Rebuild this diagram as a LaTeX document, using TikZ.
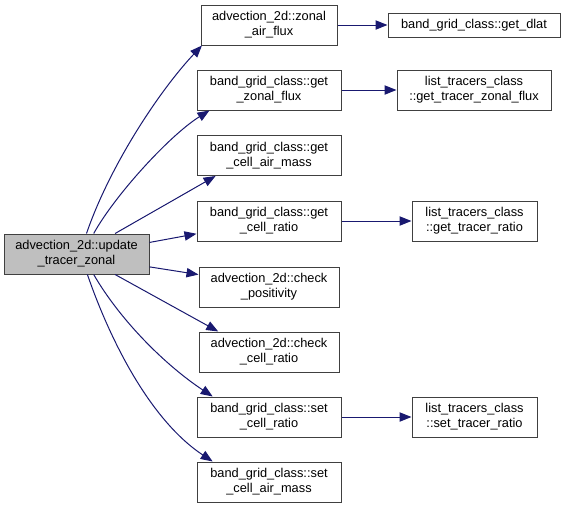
\documentclass[tikz,border=0pt]{standalone}
\usepackage{fontspec}
\setmainfont{Liberation Sans}
\usetikzlibrary{arrows.meta}

\tikzset{every picture/.style={line width=0.75pt}}
\tikzset{
  fnbox/.style={draw=black!75, fill=white, align=center, inner sep=0pt, minimum height=30pt, font=\fontsize{9.6pt}{11.25pt}\selectfont},
  rootbox/.style={fnbox, fill=black!25},
  call/.style={draw={rgb,255:red,25;green,25;blue,112}, -{Triangle[length=9pt,width=7pt]}}
}

\begin{document}
\begin{tikzpicture}[x=0.75pt,y=0.75pt,yscale=-1,xscale=1]
        \useasboundingbox (0,0) rectangle (565,508);

        % Root Node
        \node [rootbox, minimum width=108.75pt] (upd) at (76.5,254) {advection\_2d::update\\\_tracer\_zonal};

        % Callee Nodes
        \node [fnbox, minimum width=102pt] (zaf) at (269,25) {advection\_2d::zonal\\\_air\_flux};
        \node [fnbox, minimum width=108pt] (gzf) at (269,90) {band\_grid\_class::get\\\_zonal\_flux};
        \node [fnbox, minimum width=108pt] (gcam) at (269,155.5) {band\_grid\_class::get\\\_cell\_air\_mass};
        \node [fnbox, minimum width=108pt] (gcr) at (269,221) {band\_grid\_class::get\\\_cell\_ratio};
        \node [fnbox, minimum width=105pt] (chp) at (269,287) {advection\_2d::check\\\_positivity};
        \node [fnbox, minimum width=105pt] (chcr) at (269,352) {advection\_2d::check\\\_cell\_ratio};
        \node [fnbox, minimum width=108pt] (scr) at (269,417) {band\_grid\_class::set\\\_cell\_ratio};
        \node [fnbox, minimum width=108pt] (scam) at (269,482) {band\_grid\_class::set\\\_cell\_air\_mass};

        % Second level Nodes
        \node [fnbox, minimum width=129pt, minimum height=18pt] (dlat) at (474,25) {band\_grid\_class::get\_dlat};
        \node [fnbox, minimum width=115.5pt] (tzf) at (474,90) {list\_tracers\_class\\::get\_tracer\_zonal\_flux};
        \node [fnbox, minimum width=93.75pt] (gtr) at (474.5,221) {list\_tracers\_class\\::get\_tracer\_ratio};
        \node [fnbox, minimum width=93.75pt] (str) at (474.5,417) {list\_tracers\_class\\::set\_tracer\_ratio};

        %Curve Lines
        \draw [call] (upd.64.6) .. controls (110,165) and (160,90) .. (zaf.197.9);
        \draw [call] (upd.50.5) .. controls (115,195) and (170,135) .. (gzf.199.7);
        %Straight Lines
        \draw [call] (upd.28.7) -- (gcam.201.4);
        \draw [call] (upd.9.4) -- (gcr.190.2);
        \draw [call] (upd.-10.2) -- (chp.170.3);
        \draw [call] (upd.-28.7) -- (chcr.158.6);
        %Curve Lines
        \draw [call] (upd.-50.5) .. controls (120,320) and (165,365) .. (scr.160.3);
        \draw [call] (upd.-62.3) .. controls (110,340) and (150,420) .. (scam.160.3);

        %Straight Lines
        \draw [call] (zaf) -- (dlat);
        \draw [call] (gzf) -- (tzf);
        \draw [call] (gcr) -- (gtr);
        \draw [call] (scr) -- (str);
    \end{tikzpicture}
\end{document}
